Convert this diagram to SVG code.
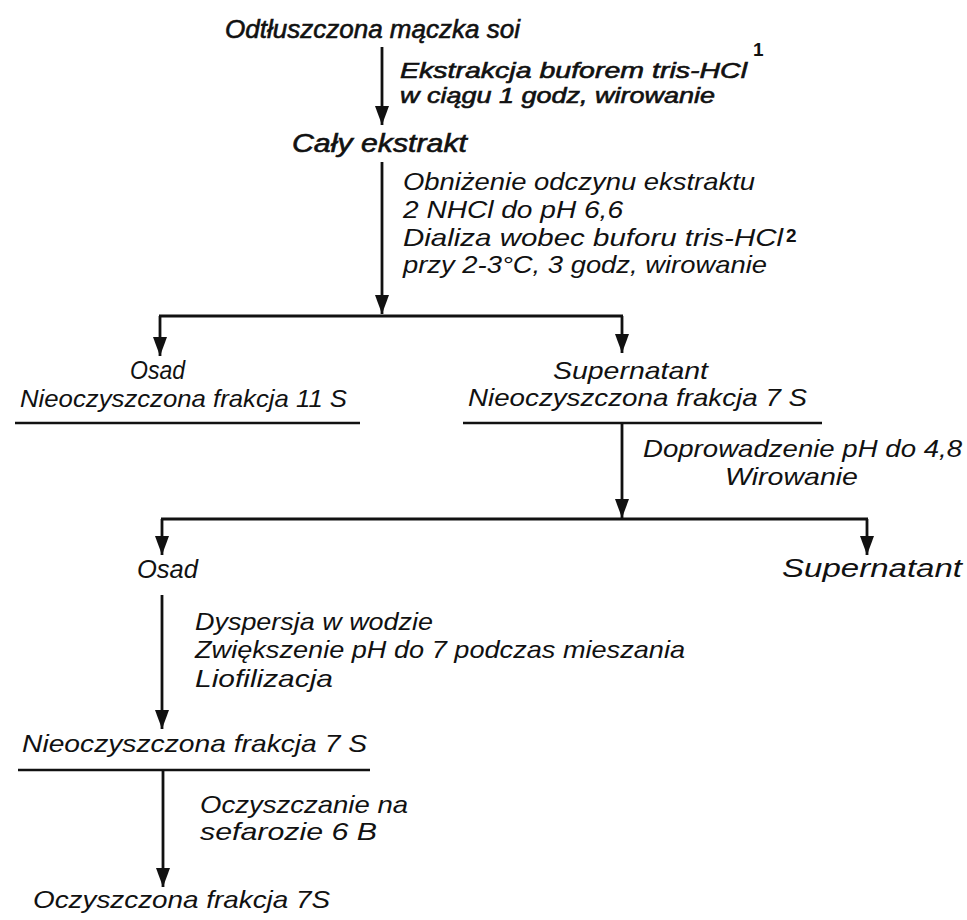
<svg xmlns="http://www.w3.org/2000/svg" width="967" height="920" viewBox="0 0 967 920">
<style>
text{font-family:"Liberation Sans",Arial,sans-serif;font-style:italic;font-size:24px;fill:#111;}
.hv{stroke:#111;stroke-width:0.6px;}
.sm{font-size:22px;}
.lg{font-size:26px;}
.sup{font-size:19px;font-weight:bold;font-style:normal;}
.ln{stroke:#111;stroke-width:2.8;fill:none;}
.ul{stroke:#111;stroke-width:2.6;fill:none;}
</style>
<defs>
<marker id="ah" markerUnits="userSpaceOnUse" markerWidth="20" markerHeight="16" viewBox="0 0 20 16" refX="19" refY="8" orient="auto">
<path d="M0,1 L19,8 L0,15 Z" fill="#111"/>
</marker>
</defs>
<rect width="967" height="920" fill="#fff"/>
<g id="connectors">
<path class="ln" d="M382,47 V125" marker-end="url(#ah)"/>
<path class="ln" d="M382,162 V314" marker-end="url(#ah)"/>
<path class="ln" d="M159,316 H623"/>
<path class="ln" d="M160,316 V356" marker-end="url(#ah)"/>
<path class="ln" d="M622,316 V353" marker-end="url(#ah)"/>
<path class="ln" d="M622,423 V518" marker-end="url(#ah)"/>
<path class="ln" d="M161,519 H868"/>
<path class="ln" d="M162,519 V555" marker-end="url(#ah)"/>
<path class="ln" d="M867,519 V555" marker-end="url(#ah)"/>
<path class="ln" d="M162,595 V729" marker-end="url(#ah)"/>
<path class="ln" d="M163,770 V887" marker-end="url(#ah)"/>
</g>
<g id="labels">
<text class="hv sm" x="400" y="78" textLength="347" lengthAdjust="spacingAndGlyphs">Ekstrakcja  buforem tris-HCl</text>
<text class="sup" x="753" y="56">1</text>
<text class="hv sm" x="400" y="103" textLength="315" lengthAdjust="spacingAndGlyphs">w ciągu 1 godz, wirowanie</text>
<text x="403" y="190" textLength="352" lengthAdjust="spacingAndGlyphs">Obniżenie odczynu ekstraktu</text>
<text x="403" y="218" textLength="220" lengthAdjust="spacingAndGlyphs">2 NHCl do pH 6,6</text>
<text x="403" y="246" textLength="380" lengthAdjust="spacingAndGlyphs">Dializa wobec buforu tris-HCl</text>
<text class="sup" x="786" y="242">2</text>
<text x="403" y="273" textLength="364" lengthAdjust="spacingAndGlyphs">przy 2-3°C, 3 godz, wirowanie</text>
<text x="643" y="457" textLength="319" lengthAdjust="spacingAndGlyphs">Doprowadzenie pH do 4,8</text>
<text x="725" y="485" textLength="133" lengthAdjust="spacingAndGlyphs">Wirowanie</text>
<text x="195" y="630" textLength="238" lengthAdjust="spacingAndGlyphs">Dyspersja w wodzie</text>
<text x="195" y="658" textLength="490" lengthAdjust="spacingAndGlyphs">Zwiększenie pH do 7 podczas mieszania</text>
<text x="195" y="687" textLength="138" lengthAdjust="spacingAndGlyphs">Liofilizacja</text>
<text x="200" y="813" textLength="208" lengthAdjust="spacingAndGlyphs">Oczyszczanie na</text>
<text x="200" y="840" textLength="177" lengthAdjust="spacingAndGlyphs">sefarozie  6 B</text>
</g>
<g id="n_start">
<text class="hv lg" x="225" y="38" textLength="295" lengthAdjust="spacingAndGlyphs">Odtłuszczona mączka soi</text>
</g>
<g id="n_extract">
<text class="hv lg" x="292" y="152" textLength="175" lengthAdjust="spacingAndGlyphs">Cały ekstrakt</text>
</g>
<g id="n_osad1">
<text x="130" y="379" style="font-size:25px" textLength="55" lengthAdjust="spacingAndGlyphs">Osad</text>
<text x="20" y="407" textLength="327" lengthAdjust="spacingAndGlyphs">Nieoczyszczona frakcja 11 S</text>
<path class="ul" d="M15,423 H360"/>
</g>
<g id="n_super1">
<text x="553" y="379" textLength="155" lengthAdjust="spacingAndGlyphs">Supernatant</text>
<text x="468" y="406" textLength="339" lengthAdjust="spacingAndGlyphs">Nieoczyszczona frakcja 7 S</text>
<path class="ul" d="M463,423 H822"/>
</g>
<g id="n_osad2">
<text class="lg" x="137" y="578" textLength="61" lengthAdjust="spacingAndGlyphs">Osad</text>
</g>
<g id="n_super2">
<text class="lg" x="782" y="577" textLength="180" lengthAdjust="spacingAndGlyphs">Supernatant</text>
</g>
<g id="n_crude7s">
<text x="22" y="752" textLength="345" lengthAdjust="spacingAndGlyphs">Nieoczyszczona frakcja 7 S</text>
<path class="ul" d="M18,770 H370"/>
</g>
<g id="n_pure7s">
<text x="33" y="908" textLength="297" lengthAdjust="spacingAndGlyphs">Oczyszczona frakcja 7S</text>
</g>
</svg>
